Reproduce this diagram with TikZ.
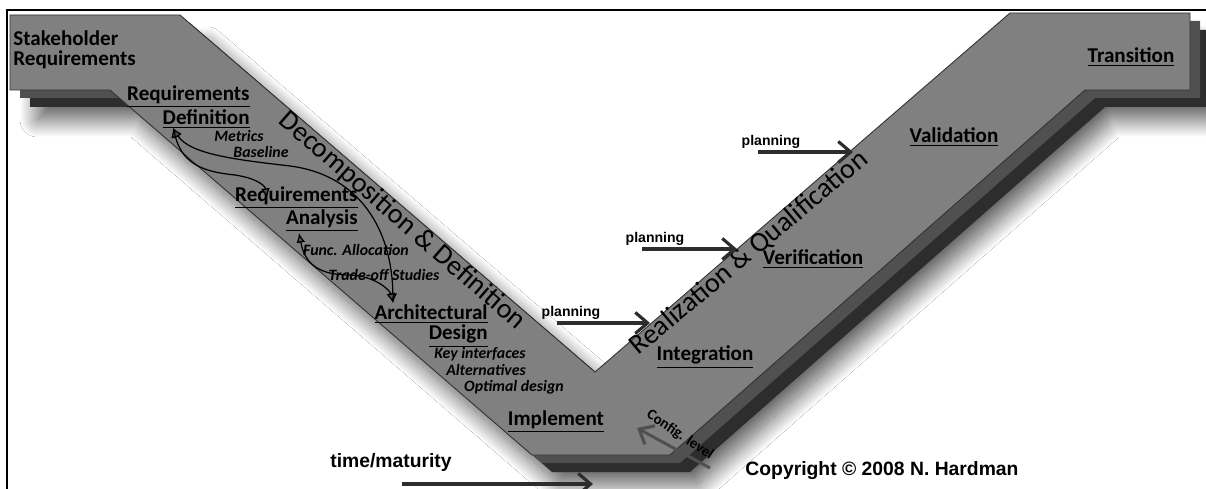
\documentclass[tikz,border=0pt]{standalone}
\usepackage{fontspec}
\setmainfont{Carlito}
\newfontfamily\arialfont{Liberation Sans}
\usetikzlibrary{arrows.meta, positioning, shadows.blur}
\definecolor{vtop}{RGB}{128,128,128}
\definecolor{vmid}{RGB}{80,80,80}
\definecolor{vlow}{RGB}{45,45,45}
\definecolor{vedge}{RGB}{50,50,50}
\definecolor{arrgray}{RGB}{45,45,45}
\tikzset{
  stage/.style={font=\fontsize{12}{11.5}\selectfont\bfseries, align=right, inner sep=0pt},
  sub/.style={font=\fontsize{9}{10}\selectfont\bfseries\itshape, inner sep=0pt},
  phase/.style={font=\fontsize{16}{16}\selectfont, inner sep=0pt},
  plan/.style={font=\fontsize{8}{8}\selectfont\arialfont\bfseries, inner sep=0pt},
  pa/.style={-{Straight Barb[length=7pt, width=12pt, line width=1.8pt]}, line width=2.1pt, arrgray},
  la/.style={{Latex[length=5.5pt, width=5pt]}-{Latex[length=5.5pt, width=5pt]}, line width=0.7pt},
}
\newcommand{\stg}[1]{\underline{#1}}
\def\vshape{(10,15) -- (180,15) -- (595,372) -- (1010,13) -- (1190,13) -- (1190,90)
  -- (1085,90) -- (670,455) -- (532,455) -- (110,90) -- (10,90) -- cycle}

\begin{document}
\begin{tikzpicture}[x=0.02cm, y=-0.02cm]
  \useasboundingbox (0,0) rectangle (1206,489);
  \fill[white] (0,0) rectangle (1206,489);
  \draw[line width=1.2pt] (7,489) -- (7,10) -- (1206,10);

  % the V, three layers
  \fill[vlow, shift={(20,17)}, blur shadow={shadow xshift=0.15cm, shadow yshift=-0.25cm,
        shadow blur radius=0.35cm, shadow blur steps=30, shadow opacity=65}] \vshape;
  \fill[vmid, shift={(10,8)}] \vshape;
  \filldraw[fill=vtop, draw=vedge, line width=0.5pt] \vshape;

  % phases
  \node[anchor=west, align=left, font=\fontsize{12}{11.5}\selectfont\bfseries, inner sep=0pt]
        (stake) at (13,50) {Stakeholder\\Requirements};
  \node[stage, anchor=east] (rdef) at (250,107) {\stg{Requirements}\\\stg{Definition}};
  \node[stage, anchor=east] (rana) at (358,209) {\stg{Requirements}\\\stg{Analysis}};
  \node[stage, anchor=east] (ades) at (488,326) {\stg{Architectural}\\\stg{Design}};
  \node[stage] (impl)  at (556,422) {\stg{Implement}};
  \node[stage] (integ) at (705,357) {\stg{Integration}};
  \node[stage] (verif) at (813,259) {\stg{Verification}};
  \node[stage] (valid) at (954,137) {\stg{Validation}};
  \node[stage] (trans) at (1131,57) {\stg{Transition}};

  \node[sub] (metr) at (239,136) {Metrics};
  \node[sub] (base) at (261,152) {Baseline};
  \node[sub] (func) at (356,250) {Func. Allocation};
  \node[sub] (trad) at (384,275) {Trade-off Studies};
  \node[sub] (keyi) at (480,354) {Key interfaces};
  \node[sub] (alts) at (486,370) {Alternatives};
  \node[sub] (optd) at (514,387) {Optimal design};

  \node[phase, rotate=-41] (decomp) at (402,221) {Decomposition \& Definition};
  \node[phase, rotate=40] (realiz) at (749,253) {Realization \& Qualification};

  % iteration loops
  \coordinate (rdefpt) at (173,128);
  \coordinate (ranapt) at (267,198);
  \coordinate (ranbpt) at (299,233);
  \coordinate (adespt) at (393,303);
  \draw[la] (rdefpt) .. controls (183,165) and (205,172) .. (235,175)
            .. controls (255,178) and (265,185) .. (ranapt);
  \draw[la] (rdefpt) .. controls (190,155) and (240,160) .. (290,166)
            .. controls (360,175) and (392,230) .. (adespt);
  \draw[la] (ranbpt) .. controls (305,265) and (320,275) .. (350,275)
            .. controls (375,276) and (390,290) .. (adespt);

  % planning inputs
  \node[plan] (plan1) at (771,142) {planning};
  \node[plan] (plan2) at (655,239) {planning};
  \node[plan] (plan3) at (571,313) {planning};
  \coordinate (p1a) at (758,152); \coordinate (p1b) at (853,152);
  \coordinate (p2a) at (642,249); \coordinate (p2b) at (737,249);
  \coordinate (p3a) at (557,323); \coordinate (p3b) at (650,323);
  \draw[pa] (p1a) -- (p1b);
  \draw[pa] (p2a) -- (p2b);
  \draw[pa] (p3a) -- (p3b);

  % config level
  \node[font=\fontsize{8.5}{9}\selectfont\bfseries, rotate=-34, inner sep=0pt] (conf) at (680,435) {Config. level};
  \coordinate (cfa) at (710,468); \coordinate (cfb) at (637,428);
  \draw[pa, line width=1.7pt, draw=vmid] (cfa) -- (cfb);

  % time axis
  \node[font=\fontsize{11}{11}\selectfont\arialfont\bfseries, inner sep=0pt] (time) at (391,463) {time/maturity};
  \coordinate (ta) at (402,484); \coordinate (tb) at (593,484);
  \draw[pa] (ta) -- (tb);

  \node[font=\fontsize{11}{11}\selectfont\arialfont\bfseries, inner sep=0pt] (copy) at (882,471) {Copyright \textcopyright{} 2008 N. Hardman};
\end{tikzpicture}
\end{document}
